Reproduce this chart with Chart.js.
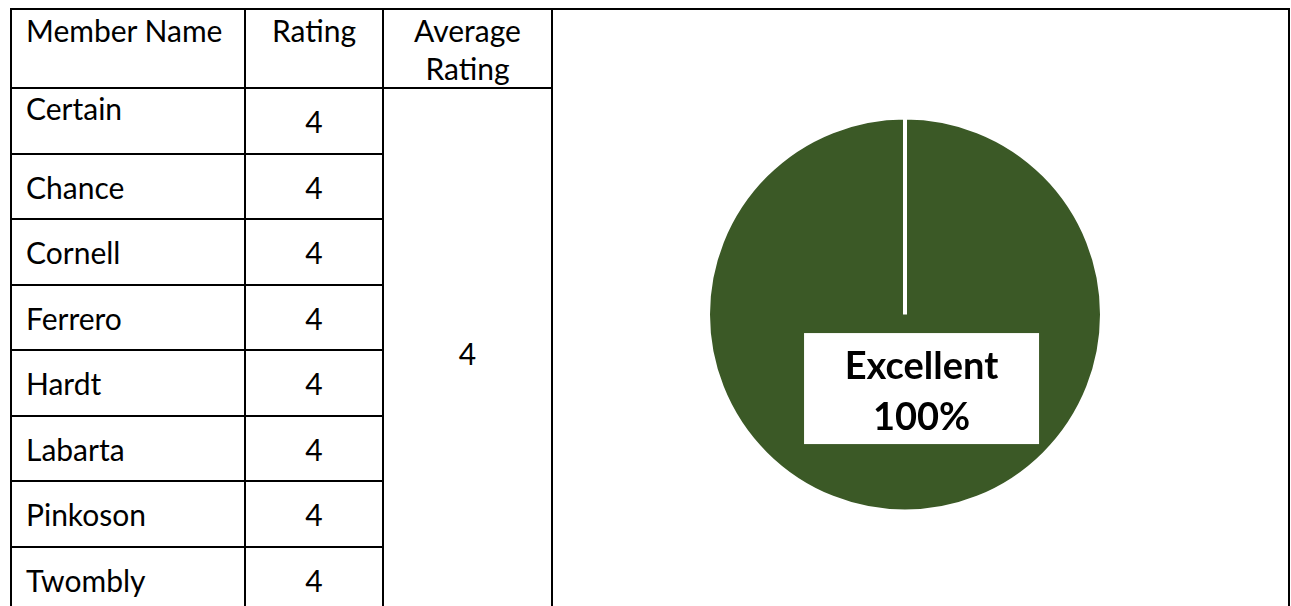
<!DOCTYPE html>
<html lang="en">
<head>
    <meta charset="UTF-8">
    <title>Member Ratings</title>
    <script src="https://cdn.jsdelivr.net/npm/chart.js"></script>
    <style>
        body {
            margin: 0;
            font-family: Lato, "Open Sans", Arial, sans-serif;
            background: #fff;
        }
        table {
            position: absolute;
            left: 10px;
            top: 8px;
            border-collapse: collapse;
            table-layout: fixed;
        }
        th, td {
            border: 2px solid #000;
            font-weight: normal;
            font-size: 30px;
            color: #000;
            padding: 0 14px;
            line-height: 38px;
        }
        th {
            vertical-align: top;
            padding-top: 1px;
        }
        td.name { text-align: left; vertical-align: middle; }
        td.name.first { vertical-align: top; padding-top: 0; }
        td.rating { text-align: center; vertical-align: middle; }
        td.avg { text-align: center; vertical-align: middle; padding-top: 4px; }
        td.chartCell {
            position: relative;
            padding: 0;
        }
        #chartBox {
            position: absolute;
            left: 0;
            top: 0;
            right: 0;
            bottom: 0;
        }
    </style>
</head>
<body>
    <table id="ratingTable">
        <colgroup>
            <col style="width:234px">
            <col style="width:138px">
            <col style="width:169px">
            <col style="width:737px">
        </colgroup>
        <tbody id="ratingBody">
            <tr style="height:78px">
                <th style="text-align:left">Member Name</th>
                <th>Rating</th>
                <th>Average<br>Rating</th>
                <td class="chartCell" id="chartCell"><div id="chartBox"><canvas id="ratingChart"></canvas></div></td>
            </tr>
        </tbody>
    </table>

    <script>
        // datos de la tabla
        const memberNames = ['Certain', 'Chance', 'Cornell', 'Ferrero', 'Hardt', 'Labarta', 'Pinkoson', 'Twombly'];
        const memberRatings = [4, 4, 4, 4, 4, 4, 4, 4];
        const averageRating = 4;

        // datos del pastel
        const ratingLabels = ['Excellent'];
        const ratingShares = [100];

        const rowHeights = [66, 65, 66, 65, 66, 65, 66, 66];

        function buildTable() {
            const body = document.getElementById('ratingBody');
            document.getElementById('chartCell').rowSpan = memberNames.length + 1;

            memberNames.forEach((name, i) => {
                const tr = document.createElement('tr');
                tr.style.height = rowHeights[i] + 'px';

                const nameCell = document.createElement('td');
                nameCell.className = i === 0 ? 'name first' : 'name';
                nameCell.textContent = name;
                tr.appendChild(nameCell);

                const ratingCell = document.createElement('td');
                ratingCell.className = 'rating';
                ratingCell.textContent = memberRatings[i];
                tr.appendChild(ratingCell);

                if (i === 0) {
                    const avgCell = document.createElement('td');
                    avgCell.className = 'avg';
                    avgCell.rowSpan = memberNames.length;
                    avgCell.textContent = averageRating;
                    tr.appendChild(avgCell);
                }
                body.appendChild(tr);
            });
        }

        // etiqueta blanca con el nombre y porcentaje
        const boxLabelPlugin = {
            id: 'boxLabel',
            afterDatasetsDraw(chart) {
                const arc = chart.getDatasetMeta(0).data[0];
                const { x, y, outerRadius } = arc.getProps(['x', 'y', 'outerRadius'], true);
                const total = ratingShares.reduce((a, b) => a + b, 0);
                const pct = Math.round(ratingShares[0] / total * 100) + '%';
                const cx = x + outerRadius * 0.084;
                const cy = y + outerRadius * 0.376;
                const w = 235, h = 111;
                const ctx = chart.ctx;
                ctx.save();
                ctx.fillStyle = '#ffffff';
                ctx.fillRect(cx - w / 2, cy - h / 2, w, h);
                ctx.fillStyle = '#000000';
                ctx.font = 'bold 38px Lato, "Open Sans", Arial, sans-serif';
                ctx.textAlign = 'center';
                ctx.textBaseline = 'middle';
                ctx.fillText(ratingLabels[0], cx, cy - 22);
                ctx.fillText(pct, cx, cy + 29);
                ctx.restore();
            }
        };

        function drawChart() {
            const ctx = document.getElementById('ratingChart').getContext('2d');
            new Chart(ctx, {
                type: 'pie',
                data: {
                    labels: ratingLabels,
                    datasets: [{
                        data: ratingShares,
                        backgroundColor: '#3b5926',
                        borderColor: '#ffffff',
                        borderWidth: 4
                    }]
                },
                options: {
                    responsive: true,
                    maintainAspectRatio: false,
                    animation: false,
                    layout: {
                        padding: { left: 153, right: 184, top: 105, bottom: 98 }
                    },
                    plugins: {
                        legend: { display: false },
                        tooltip: { enabled: false }
                    }
                },
                plugins: [boxLabelPlugin]
            });
        }

        buildTable();
        drawChart();
    </script>
</body>
</html>
